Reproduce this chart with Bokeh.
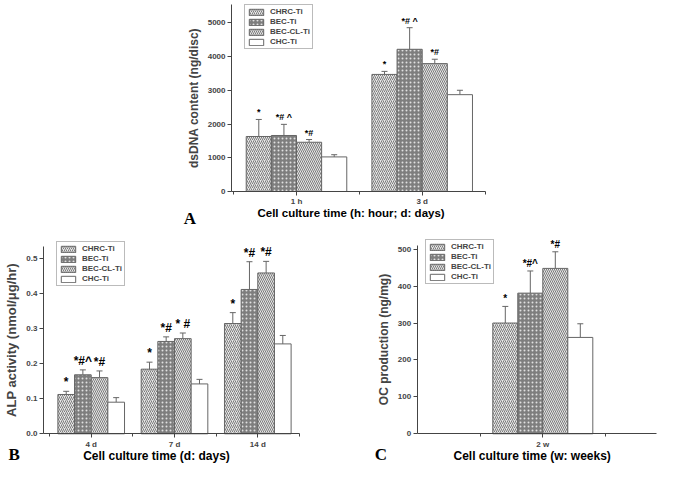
from bokeh.plotting import figure
from bokeh.models import (ColumnDataSource, Whisker, TeeHead, Legend, LegendItem,
                          FixedTicker, Label, Range1d, Spacer, NumeralTickFormatter, LinearAxis)
from bokeh.layouts import column, row
from bokeh.embed import file_html
from bokeh.resources import INLINE
from bokeh.core.properties import value

series_names = ["CHRC-Ti", "BEC-Ti", "BEC-CL-Ti", "CHC-Ti"]

# ---------------- Panel A : dsDNA content ----------------
a_groups = ["1 h", "3 d"]
a_chrc = [1630, 3470]
a_chrc_up = [2135, 3560]
a_bec = [1660, 4215]
a_bec_up = [1990, 4855]
a_becl = [1460, 3790]
a_becl_up = [1540, 3920]
a_chc = [1025, 2870]
a_chc_up = [1090, 3000]
a_ann = [["*", "*"], ["*# ^", "*# ^"], ["*#", "*#"], ["", ""]]
a_yticks = [0, 1000, 2000, 3000, 4000, 5000]

# ---------------- Panel B : ALP activity ----------------
b_groups = ["4 d", "7 d", "14 d"]
b_chrc = [0.112, 0.184, 0.314]
b_chrc_up = [0.121, 0.204, 0.345]
b_bec = [0.168, 0.263, 0.411]
b_bec_up = [0.182, 0.276, 0.490]
b_becl = [0.160, 0.271, 0.458]
b_becl_up = [0.179, 0.287, 0.491]
b_chc = [0.090, 0.142, 0.256]
b_chc_up = [0.103, 0.155, 0.280]
b_ann = [["*", "*", "*"], ["*#^", "*#", "*#"], ["*#", "* #", "*#"], ["", "", ""]]
b_yticks = [0.0, 0.1, 0.2, 0.3, 0.4, 0.5]

# ---------------- Panel C : OC production ----------------
c_groups = ["2 w"]
c_chrc = [300]
c_chrc_up = [345]
c_bec = [381]
c_bec_up = [441]
c_becl = [448]
c_becl_up = [493]
c_chc = [261]
c_chc_up = [298]
c_ann = [["*"], ["*#^"], ["*#"], [""]]
c_yticks = [0, 100, 200, 300, 400, 500]

FONT = "Liberation Sans"
STYLES = [
    dict(fill_color="#e6e6e6", hatch_pattern="/", hatch_color="#7c7c7c", hatch_scale=4, hatch_weight=1),
    dict(fill_color="#7e7e7e", hatch_pattern=".", hatch_color="#e0e0e0", hatch_scale=4, hatch_weight=1.5),
    dict(fill_color="#e6e6e6", hatch_pattern="\\", hatch_color="#7c7c7c", hatch_scale=4, hatch_weight=1),
    dict(fill_color="white"),
]
OFFSETS = [-0.3, -0.1, 0.1, 0.3]
EDGE = "#666666"


def style_axis(ax):
    ax.axis_line_color = "#444444"
    ax.major_tick_line_color = "#444444"
    ax.minor_tick_line_color = "#444444"
    ax.major_tick_out = 4
    ax.major_tick_in = 0
    ax.minor_tick_out = 3
    ax.minor_tick_in = 0
    ax.major_label_text_font_size = "8px"
    ax.major_label_text_font_style = "bold"
    ax.major_label_text_font = FONT
    ax.major_label_standoff = 2


def make_panel(width, height, xr, yr, xaxis_bounds, yaxis_top, groups, means, uppers, anns,
               yticks, ylabel, ylabel_size, ann_size, legend_loc, yfmt=None):
    p = figure(width=width, height=height, x_range=Range1d(*xr), y_range=Range1d(*yr),
               output_backend="svg", toolbar_location=None,
               x_axis_location=None, y_axis_location=None,
               min_border=0, min_border_left=0, min_border_right=0,
               min_border_top=0, min_border_bottom=0)
    p.title.visible = False
    p.outline_line_color = None
    p.grid.visible = False
    p.background_fill_color = "white"
    n = len(groups)
    items = []
    for k in range(4):
        xs = [i + 1 + OFFSETS[k] for i in range(n)]
        src = ColumnDataSource(dict(x=xs, top=means[k], up=uppers[k], ann=anns[k]))
        r = p.vbar(x="x", top="top", bottom=0, width=0.2, source=src,
                   line_color=EDGE, line_width=1, **STYLES[k])
        w = Whisker(base="x", lower="top", upper="up", source=src, line_color=EDGE,
                    line_width=1, upper_head=TeeHead(size=6, line_color=EDGE, line_width=1),
                    lower_head=None)
        p.add_layout(w)
        p.text(x="x", y="up", text="ann", source=src, text_align="center",
               text_baseline="bottom", y_offset=-2, text_font_size=ann_size,
               text_font_style="bold", text_font=value(FONT), text_color="black")
        items.append(LegendItem(label=series_names[k], renderers=[r]))
    leg = Legend(items=items, location=legend_loc, label_text_font_size="8px",
                 label_text_font_style="bold", label_text_font=FONT,
                 glyph_width=18, glyph_height=8, label_height=8, spacing=1, padding=2,
                 margin=0, label_standoff=5, border_line_color="#777777",
                 border_line_width=1, background_fill_color="white", background_fill_alpha=1)
    p.add_layout(leg)

    xaxis = LinearAxis(fixed_location=0, bounds=xaxis_bounds,
                       ticker=FixedTicker(ticks=[i + 1 for i in range(n)],
                                          minor_ticks=[i + 0.5 for i in range(n + 1)]),
                       major_label_overrides={i + 1: g for i, g in enumerate(groups)})
    style_axis(xaxis)
    p.add_layout(xaxis, "below")

    yaxis = LinearAxis(fixed_location=xaxis_bounds[0], bounds=(0, yaxis_top),
                       ticker=FixedTicker(ticks=yticks, minor_ticks=[]))
    if yfmt:
        yaxis.formatter = NumeralTickFormatter(format=yfmt)
    style_axis(yaxis)
    yaxis.axis_label = ylabel
    yaxis.axis_label_text_font_size = ylabel_size
    yaxis.axis_label_text_font_style = "bold"
    yaxis.axis_label_text_font = FONT
    yaxis.axis_label_standoff = 4
    p.add_layout(yaxis, "left")
    return p


def add_labels(p, xlabel, xl_pos, xl_size, letter, lt_pos, lt_size):
    p.add_layout(Label(x=xl_pos[0], y=xl_pos[1], text=xlabel, text_align="center",
                       text_baseline="middle", text_font_size=xl_size, text_font_style="bold",
                       text_font=FONT, text_color="black"))
    p.add_layout(Label(x=lt_pos[0], y=lt_pos[1], text=letter, text_align="left",
                       text_baseline="alphabetic", text_font_size=lt_size, text_font_style="bold",
                       text_font="Liberation Serif", text_color="black"))


pA = make_panel(340, 236, (-0.0819, 2.6229), (-1334, 5661), (0.483, 2.504), 5540, a_groups,
                [a_chrc, a_bec, a_becl, a_chc], [a_chrc_up, a_bec_up, a_becl_up, a_chc_up],
                a_ann, a_yticks, "dsDNA content (ng/disc)", "12px", "9px", (84, 187))
add_labels(pA, "Cell culture time (h: hour; d: days)", (1.434, -652), "11.5px", "A", (0.103, -815), "17px")

pB = make_panel(370, 228, (-0.0888, 4.353), (-0.0874, 0.5618), (0.427, 3.5), 0.5325, b_groups,
                [b_chrc, b_bec, b_becl, b_chc], [b_chrc_up, b_bec_up, b_becl_up, b_chc_up],
                b_ann, b_yticks, "ALP activity (nmol/\u03bcg/hr)", "13px", "12px", (56, 178), yfmt="0.0")
add_labels(pB, "Cell culture time (d: days)", (1.784, -0.0646), "12px", "B", (0.0072, -0.0581), "17px")

pC = make_panel(287, 228, (-0.3784, 1.9176), (-83.2, 534.4), (-0.0048, 1.9096), 510.8, c_groups,
                [c_chrc, c_bec, c_becl, c_chc], [c_chrc_up, c_bec_up, c_becl_up, c_chc_up],
                c_ann, c_yticks, "OC production (ng/mg)", "12px", "10px", (55, 180))
add_labels(pC, "Cell culture time (w: weeks)", (0.915, -61.5), "12px", "C", (-0.344, -56.9), "17px")

layout = column(row(Spacer(width=160, height=236), pA), row(pB, pC))

with open("out.html", "w") as f:
    f.write(file_html(layout, INLINE))
